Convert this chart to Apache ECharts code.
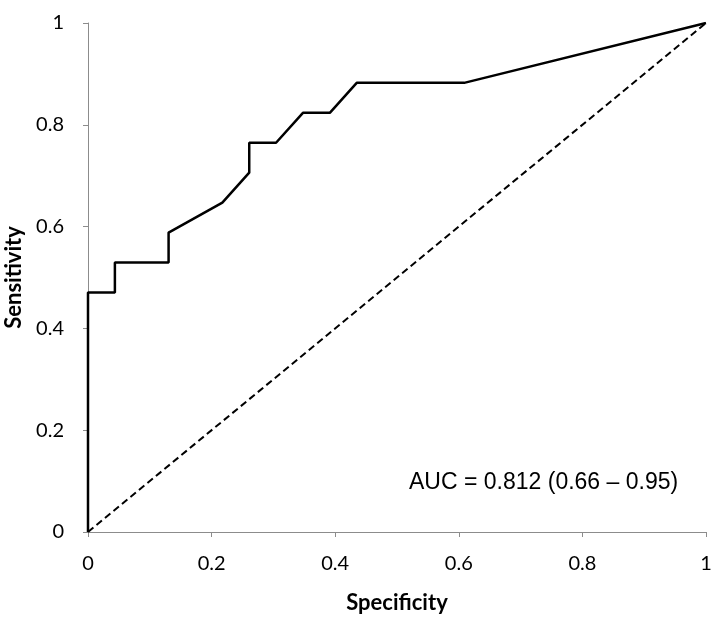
<!DOCTYPE html>
<html><head><meta charset="utf-8">
<script src="https://cdn.jsdelivr.net/npm/echarts@6/dist/echarts.min.js"></script>
<style>html,body{margin:0;padding:0;background:#fff}#c{width:721px;height:617px}</style>
</head><body><div id="c"></div>
<script>
const rocX = [0, 0, 0.0435, 0.0435, 0.1304, 0.1304, 0.2174, 0.2609, 0.2609, 0.3043, 0.3478, 0.3913, 0.4348, 0.6087, 1];
const rocY = [0, 0.4706, 0.4706, 0.5294, 0.5294, 0.5882, 0.6471, 0.7059, 0.7647, 0.7647, 0.8235, 0.8235, 0.8824, 0.8824, 1];
const refX = [0, 1];
const refY = [0, 1];
const xTicks = [0, 0.2, 0.4, 0.6, 0.8, 1];
const yTicks = [0, 0.2, 0.4, 0.6, 0.8, 1];
const aucText = 'AUC = 0.812 (0.66 \u2013 0.95)';

const chart = echarts.init(document.getElementById('c'));
const axisCommon = {
  type: 'value', min: 0, max: 1, interval: 0.2,
  axisLine: {show: true, lineStyle: {color: '#8c8c8c', width: 1}},
  axisTick: {show: true, length: 5, lineStyle: {color: '#8c8c8c'}},
  splitLine: {show: false},
  axisLabel: {color: '#000', fontFamily: 'Lato', fontSize: 20,
    formatter: v => { const t = [...xTicks, ...yTicks].find(a => Math.abs(a - v) < 1e-9); return t === undefined ? '' : String(t); }},
  nameLocation: 'middle',
  nameTextStyle: {color: '#000', fontFamily: 'Lato', fontWeight: 'bold', fontSize: 22}
};
chart.setOption({
  animation: false,
  grid: {left: 88, right: 15, top: 23, bottom: 85, containLabel: false, outerBoundsMode: 'none'},
  xAxis: Object.assign({}, axisCommon, {name: 'Specificity', nameGap: 60,
    axisLabel: Object.assign({}, axisCommon.axisLabel, {margin: 22})}),
  yAxis: Object.assign({}, axisCommon, {name: 'Sensitivity', nameGap: 60,
    axisLabel: Object.assign({}, axisCommon.axisLabel, {margin: 24})}),
  series: [
    {type: 'line', data: refX.map((x, i) => [x, refY[i]]), symbol: 'none',
     lineStyle: {color: '#000', width: 2, type: [7, 4]}},
    {type: 'line', data: rocX.map((x, i) => [x, rocY[i]]), symbol: 'none',
     lineStyle: {color: '#000', width: 2.5}}
  ],
  graphic: [{type: 'text', left: 409, top: 471,
    style: {text: aucText, fontFamily: 'Liberation Sans', fontSize: 23, fill: '#000'}}]
});
</script></body></html>
